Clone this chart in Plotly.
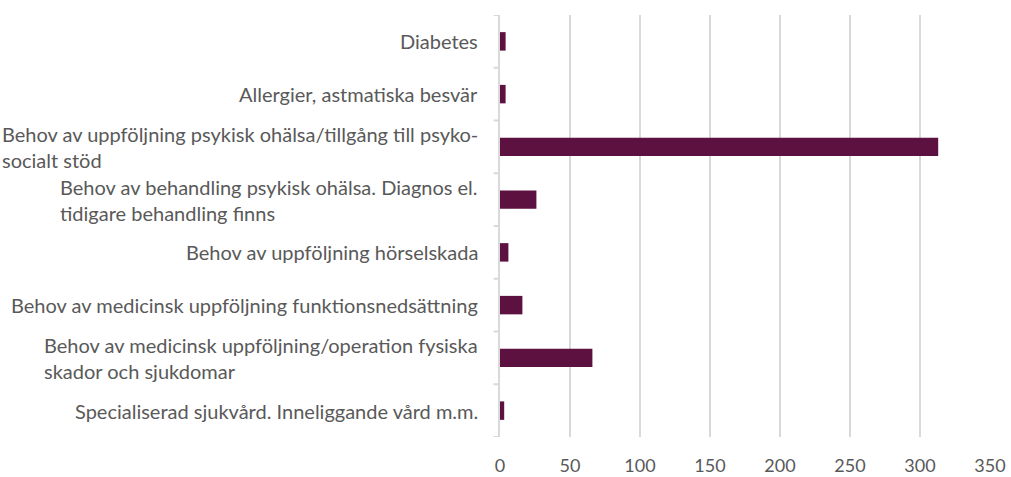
import plotly.graph_objects as go

categories = [
    "Diabetes",
    "Allergier, astmatiska besvär",
    "Behov av uppföljning psykisk ohälsa/tillgång till psyko-<br>socialt stöd",
    "Behov av behandling psykisk ohälsa. Diagnos el.<br>tidigare behandling finns",
    "Behov av uppföljning hörselskada",
    "Behov av medicinsk uppföljning funktionsnedsättning",
    "Behov av medicinsk uppföljning/operation fysiska<br>skador och sjukdomar",
    "Specialiserad sjukvård. Inneliggande vård m.m.",
]
values = [4, 4, 313, 26, 6, 16, 66, 3]
x_ticks = [0, 50, 100, 150, 200, 250, 300, 350]

BAR = "#5d1140"
TXT = "#595959"
GRID = "#d9d9d9"
FONT = "Lato"

fig = go.Figure(go.Bar(
    x=values, y=list(range(len(categories))), orientation="h",
    marker=dict(color=BAR, line=dict(width=0)),
    width=0.35,
))

annotations = []
for i, c in enumerate(categories):
    annotations.append(dict(
        x=0, xref="paper", y=i, yref="y", text=c, showarrow=False,
        xanchor="right", yanchor="middle", align="left", xshift=-20,
        font=dict(family=FONT, size=20, color=TXT),
    ))

fig.update_layout(
    width=1011, height=477,
    margin=dict(l=500, r=21, t=15, b=40),
    paper_bgcolor="white", plot_bgcolor="white",
    showlegend=False,
    annotations=annotations,
    xaxis=dict(
        range=[0, 350], tickvals=x_ticks, ticktext=[str(v) for v in x_ticks],
        showgrid=True, gridcolor=GRID, gridwidth=2, zeroline=False,
        showline=False, ticks="", ticklabelstandoff=16, automargin=False,
        tickfont=dict(family=FONT, size=18, color=TXT),
    ),
    yaxis=dict(
        range=[len(categories) - 0.5, -0.5],
        tickvals=list(range(len(categories))), showticklabels=False,
        showgrid=False, zeroline=False, automargin=False,
        showline=True, linecolor=GRID, linewidth=2,
    ),
)

# boundary tick marks on the category axis
for k in range(len(categories) + 1):
    fig.add_shape(type="line", xref="paper", yref="y", x0=-0.013, x1=0,
                  y0=k - 0.5, y1=k - 0.5, line=dict(color=GRID, width=2))

fig.write_html("out.html", config={"displayModeBar": False},
               post_script="document.body.style.margin='0';document.body.style.overflow='hidden';")
